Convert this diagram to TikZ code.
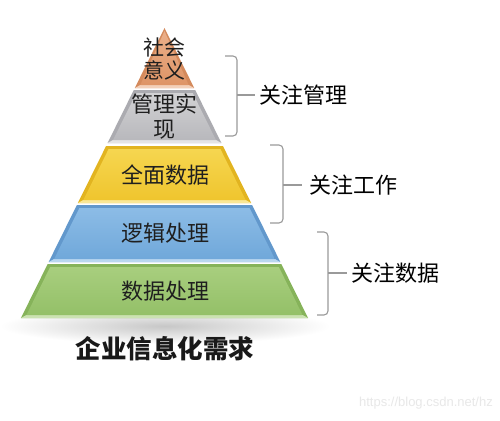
\documentclass[tikz,border=0pt]{standalone}
\usepackage{fontspec}
\newfontfamily\cjk{Noto Sans CJK SC}
\newfontfamily\wmfont{Liberation Sans}
\definecolor{orgL}{HTML}{EBB08A}
\definecolor{orgM}{HTML}{DE9466}
\definecolor{orgE}{HTML}{D48A5C}
\definecolor{gryL}{HTML}{D2D2D4}
\definecolor{gryM}{HTML}{B8B8BC}
\definecolor{gryE}{HTML}{ABABB0}
\definecolor{ylwL}{HTML}{F6D650}
\definecolor{ylwM}{HTML}{EFC52E}
\definecolor{ylwE}{HTML}{E2B420}
\definecolor{bluL}{HTML}{8CBCE6}
\definecolor{bluM}{HTML}{70A8DA}
\definecolor{bluE}{HTML}{6298CC}
\definecolor{grnL}{HTML}{A8CE7E}
\definecolor{grnM}{HTML}{94C068}
\definecolor{grnE}{HTML}{86B35A}
\definecolor{brcol}{HTML}{9A9A9A}
\newcommand\pyrlayer[3]{%
  \pgfmathsetmacro\hT{0.495*(#1-28)}%
  \pgfmathsetmacro\hB{0.495*(#2-28)}%
  \pgfmathsetmacro\iT{max(0.495*(#1+3-28)-4,0)}%
  \pgfmathsetmacro\iB{0.495*(#2-3-28)-4}%
  \fill[#3E] (164.5-\hT,#1) -- (164.5+\hT,#1) -- (164.5+\hB,#2) -- (164.5-\hB,#2) -- cycle;
  \fill[#3L!60!white] (164.5-\hB,#2) -- (164.5+\hB,#2) -- (164.5+\iB,#2-3) -- (164.5-\iB,#2-3) -- cycle;
  \shade[top color=#3L, bottom color=#3M] (164.5-\iT,#1+3) -- (164.5+\iT,#1+3) -- (164.5+\iB,#2-3) -- (164.5-\iB,#2-3) -- cycle;
}
\begin{document}
\begin{tikzpicture}[x=1pt,y=-1pt,
  lbl/.style={font=\cjk\fontsize{22}{26}\selectfont, text=black!88, align=center, inner sep=0pt},
  side/.style={font=\cjk\fontsize{22}{26}\selectfont, text=black, anchor=west, inner sep=0pt},
  brace/.style={draw=brcol, line width=1.1pt, rounded corners=4pt}]
\useasboundingbox (0,0) rectangle (500,420);
\fill[white] (0,0) rectangle (500,420);
% shadow under pyramid
\shade[inner color=black!22, outer color=white] (165,326) ellipse (165 and 18);
% layers
\pyrlayer{28}{88}{org}
\pyrlayer{90}{143}{gry}
\pyrlayer{146}{203}{ylw}
\pyrlayer{205}{262}{blu}
\pyrlayer{264}{318}{grn}
% layer texts
\node[lbl, font=\cjk\fontsize{21}{23}\selectfont] (t1) at (164,59) {社会\\意义};
\node[lbl, font=\cjk\fontsize{22}{25}\selectfont] (t2) at (164,117) {管理实\\现};
\node[lbl] (t3) at (165,175) {全面数据};
\node[lbl] (t4) at (165,233) {逻辑处理};
\node[lbl] (t5) at (165,291) {数据处理};
\node[font=\cjk\bfseries\fontsize{25.5}{28}\selectfont, text=black!90, inner sep=0pt] (title) at (165,349) {企业信息化需求};
% braces
\coordinate (b1t) at (225,56); \coordinate (b1b) at (225,136);
\coordinate (b1m) at (237,95); \coordinate (b1tip) at (255,95);
\draw[brace] (b1t) -- (b1t -| b1m) -- (b1b -| b1m) -- (b1b);
\draw[brace] (b1m) -- (b1tip);
\node[side] (s1) at (259,95) {关注管理};
\coordinate (b2t) at (270,145); \coordinate (b2b) at (270,223);
\coordinate (b2m) at (283,185); \coordinate (b2tip) at (302,185);
\draw[brace] (b2t) -- (b2t -| b2m) -- (b2b -| b2m) -- (b2b);
\draw[brace] (b2m) -- (b2tip);
\node[side] (s2) at (309,185) {关注工作};
\coordinate (b3t) at (317,232); \coordinate (b3b) at (317,315);
\coordinate (b3m) at (328,273); \coordinate (b3tip) at (347,273);
\draw[brace] (b3t) -- (b3t -| b3m) -- (b3b -| b3m) -- (b3b);
\draw[brace] (b3m) -- (b3tip);
\node[side] (s3) at (351,273) {关注数据};
% watermark
\node[font=\wmfont\fontsize{13}{15}\selectfont, text=black!9, anchor=east, inner sep=0pt] (wm) at (493,403) {https://blog.csdn.net/hz};
\end{tikzpicture}
\end{document}
